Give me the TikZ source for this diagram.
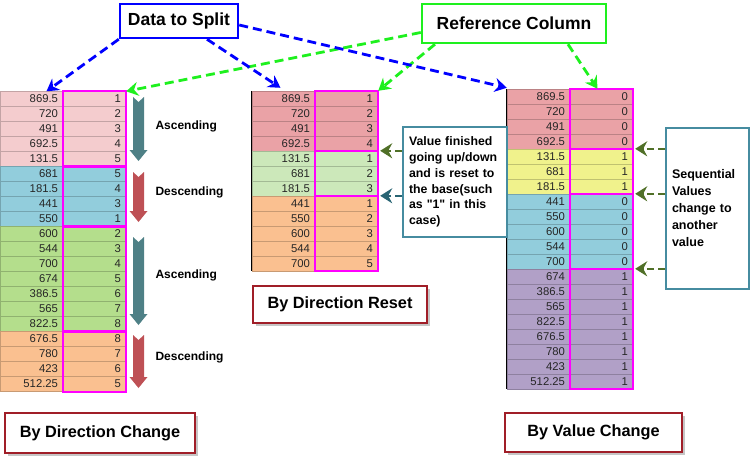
\documentclass[tikz,border=0pt]{standalone}
\usepackage{fontspec}
\setmainfont{Liberation Sans}[Ligatures=TeXOff]
\usepackage{tikz}
\usetikzlibrary{arrows.meta, shadows}
\definecolor{lpink}{RGB}{244, 204, 206}
\definecolor{lblue}{RGB}{146, 205, 220}
\definecolor{lgreen}{RGB}{180, 222, 140}
\definecolor{lorange}{RGB}{250, 192, 144}
\definecolor{mpink}{RGB}{234, 162, 166}
\definecolor{mgreen}{RGB}{204, 232, 186}
\definecolor{ryellow}{RGB}{240, 242, 140}
\definecolor{rpurple}{RGB}{177, 160, 199}
\definecolor{mag}{RGB}{255, 0, 255}
\definecolor{upteal}{RGB}{78, 128, 134}
\definecolor{downred}{RGB}{190, 80, 85}
\definecolor{callline}{RGB}{70, 140, 160}
\definecolor{arrgreen}{RGB}{80, 112, 40}
\definecolor{arrteal}{RGB}{40, 100, 115}
\definecolor{splitblue}{RGB}{0, 0, 255}
\definecolor{refgreen}{RGB}{30, 240, 30}
\definecolor{labred}{RGB}{160, 30, 40}

\begin{document}
\begin{tikzpicture}[x=1pt, y=-1pt,
   valcell/.style={draw=#1!80!black, fill=#1, line width=0.4, inner sep=0,
                   minimum width=63, minimum height=15, text width=53pt,
                   align=right, text=black!85, font=\fontsize{11.3}{11}\selectfont},
   refbox/.style={draw=mag, line width=1.8},
   dirlabel/.style={anchor=west, font=\fontsize{12}{12}\selectfont\bfseries},
   topbox/.style={draw=#1, fill=white, line width=2.5, inner sep=0,
                  font=\fontsize{17.5}{20}\selectfont\bfseries},
   splitarrow/.style={draw=#1, line width=2.8, dash pattern=on 9pt off 5pt,
                      -{Stealth[length=12pt, width=14pt, inset=4pt]}},
   callbox/.style={draw=callline, fill=white, line width=1.8, inner sep=0,
                   align=left, font=\fontsize{12.3}{15.8}\selectfont\bfseries},
   callarrow/.style={draw=#1, line width=2.6, dash pattern=on 7pt off 4pt,
                     -{Stealth[length=12pt, width=15pt, inset=4pt, fill=#1]}},
   labelbox/.style={draw=labred, fill=white, line width=2.8, inner sep=0,
                    font=\fontsize{16.3}{18}\selectfont\bfseries,
                    drop shadow={opacity=0.45, shadow xshift=3pt, shadow yshift=-3pt}}
  ]
  \useasboundingbox (0, 0) rectangle (750, 460);

  % by direction change
  \foreach \v/\r/\c [count=\i from 0] in {869.5/1/lpink, 720/2/lpink, 491/3/lpink,
      692.5/4/lpink, 131.5/5/lpink, 681/5/lblue, 181.5/4/lblue, 441/3/lblue,
      550/1/lblue, 600/2/lgreen, 544/3/lgreen, 700/4/lgreen, 674/5/lgreen,
      386.5/6/lgreen, 565/7/lgreen, 822.5/8/lgreen, 676.5/8/lorange, 780/7/lorange,
      423/6/lorange, 512.25/5/lorange} {
    \node (Lv\i) at (31.5, 99 + 15 * \i) [valcell=\c] {\v};
    \node (Lr\i) at (94.5, 99 + 15 * \i) [valcell=\c] {\r};
  }
  \draw[black, line width=1.2] (Lv0.north west) -- (Lv19.south west);
  \foreach \a/\b in {0/4, 5/8, 9/15, 16/19} {
    \draw[refbox] (Lr\a.north west) rectangle (Lr\b.south east);
  }

  \foreach \ya/\yb/\c in {97/161/upteal, 172/222/downred, 237/325/upteal, 335/388/downred} {
    \fill[\c] (133, \ya) -- (138.5, \ya + 5) -- (144, \ya) -- (144, \yb - 11)
      -- (147.5, \yb - 11) -- (138.5, \yb) -- (129.5, \yb - 11) -- (133, \yb - 11) -- cycle;
  }
  \node (Asc1) at (152, 126) [dirlabel] {Ascending};
  \node (Desc1) at (152, 192) [dirlabel] {Descending};
  \node (Asc2) at (152, 275) [dirlabel] {Ascending};
  \node (Desc2) at (152, 357) [dirlabel] {Descending};

  % by direction reset
  \foreach \v/\r/\c [count=\i from 0] in {869.5/1/mpink, 720/2/mpink, 491/3/mpink,
      692.5/4/mpink, 131.5/1/mgreen, 681/2/mgreen, 181.5/3/mgreen, 441/1/lorange,
      550/2/lorange, 600/3/lorange, 544/4/lorange, 700/5/lorange} {
    \node (Mv\i) at (283.5, 98.5 + 15 * \i) [valcell=\c] {\v};
    \node (Mr\i) at (346.5, 98.5 + 15 * \i) [valcell=\c] {\r};
  }
  \draw[black, line width=1.2] (Mv0.north west) -- (Mv11.south west);
  \foreach \a/\b in {0/3, 4/6, 7/11} {
    \draw[refbox] (Mr\a.north west) rectangle (Mr\b.south east);
  }

  % by value change
  \foreach \v/\r/\c [count=\i from 0] in {869.5/0/mpink, 720/0/mpink, 491/0/mpink,
      692.5/0/mpink, 131.5/1/ryellow, 681/1/ryellow, 181.5/1/ryellow, 441/0/lblue,
      550/0/lblue, 600/0/lblue, 544/0/lblue, 700/0/lblue, 674/1/rpurple,
      386.5/1/rpurple, 565/1/rpurple, 822.5/1/rpurple, 676.5/1/rpurple,
      780/1/rpurple, 423/1/rpurple, 512.25/1/rpurple} {
    \node (Rv\i) at (538.5, 96.5 + 15 * \i) [valcell=\c] {\v};
    \node (Rr\i) at (601.5, 96.5 + 15 * \i) [valcell=\c] {\r};
  }
  \draw[black, line width=1.2] (Rv0.north west) -- (Rv19.south west);
  \foreach \a/\b in {0/3, 4/6, 7/11, 12/19} {
    \draw[refbox] (Rr\a.north west) rectangle (Rr\b.south east);
  }

  % callouts
  \node (ResetNote) at (455, 182) [callbox, minimum width=104, minimum height=110,
      text width=92pt] {Value finished\\going up/down\\and is reset to\\the base(such\\as "1" in this\\case)};
  \draw[callarrow=arrgreen] (ResetNote.west |- Mr4.north) -- ([xshift=2pt]Mr4.north east);
  \draw[callarrow=arrteal] (ResetNote.west |- Mr7.north) -- ([xshift=2pt]Mr7.north east);

  \node (ChangeNote) at (707.5, 208.5) [callbox, minimum width=83, minimum height=161,
      text width=71pt, font=\fontsize{12.5}{17}\selectfont\bfseries] {Sequential\\Values\\change to\\another\\value};
  \foreach \k in {4, 7, 12} {
    \draw[callarrow=arrgreen] (ChangeNote.west |- Rr\k.north) -- ([xshift=2pt]Rr\k.north east);
  }

  % top labels
  \node (DataBox) at (179, 21) [topbox=splitblue, minimum width=118, minimum height=34] {Data to Split};
  \node (RefBox) at (514, 23.5) [topbox=refgreen, minimum width=184, minimum height=39] {Reference Column};

  \draw[splitarrow=refgreen] ([yshift=-9pt]RefBox.west) -- (Lr0.north east);
  \draw[splitarrow=refgreen] ([xshift=-79pt]RefBox.south) -- (Mr0.north east);
  \draw[splitarrow=refgreen] ([xshift=54pt]RefBox.south) -- ([xshift=-4pt]Rr0.north);
  \draw[splitarrow=splitblue] (DataBox.south west) -- ([xshift=15pt]Lv0.north);
  \draw[splitarrow=splitblue] ([xshift=28pt]DataBox.south) -- ([xshift=-3pt, yshift=3pt]Mv0.north);
  \draw[splitarrow=splitblue] ([yshift=-4pt]DataBox.east) -- ([yshift=1pt]Rv0.north west);

  % bottom labels
  \node (DirChange) at (100, 433) [labelbox, minimum width=190, minimum height=40] {By Direction Change};
  \node (DirReset) at (340, 304.5) [labelbox, minimum width=174, minimum height=37] {By Direction Reset};
  \node (ValChange) at (593.5, 432.5) [labelbox, minimum width=177, minimum height=39] {By Value Change};

\end{tikzpicture}
\end{document}
